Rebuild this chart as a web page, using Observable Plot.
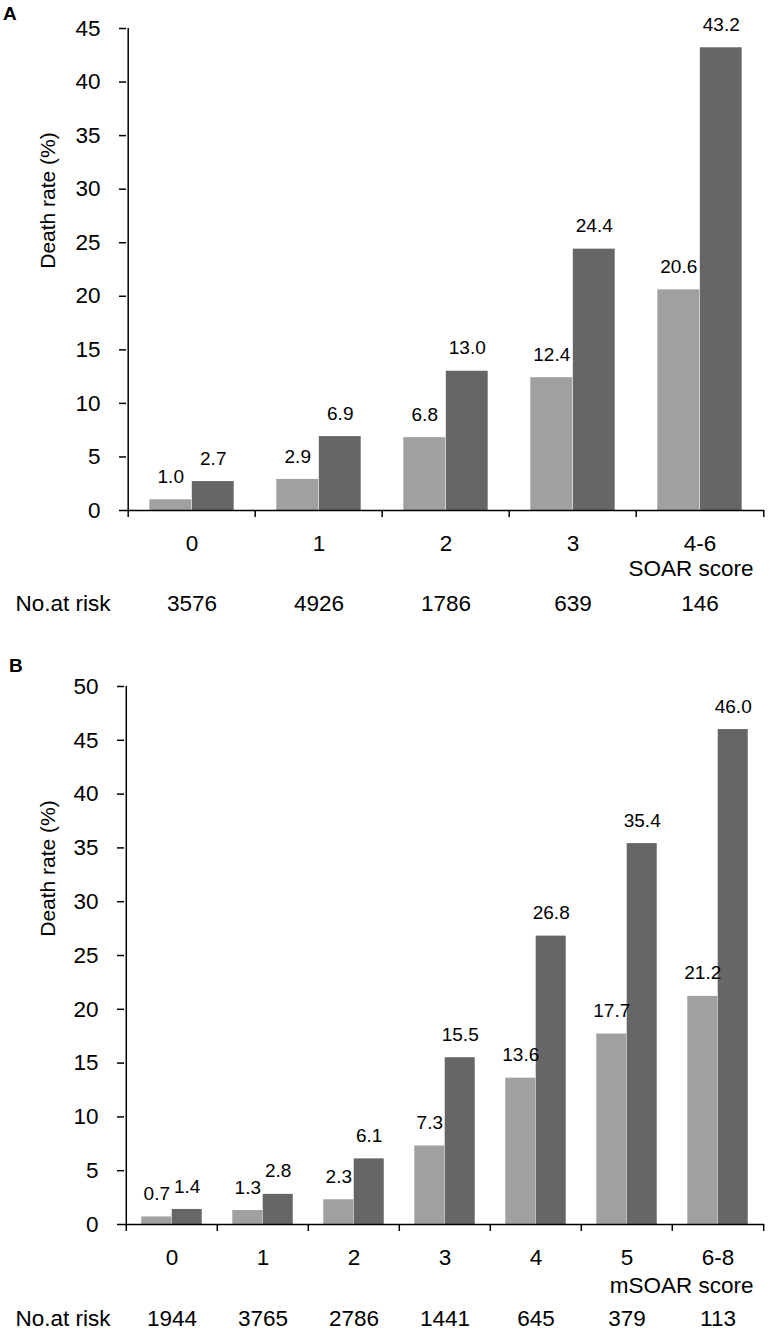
<!DOCTYPE html>
<html>
<head>
<meta charset="utf-8">
<script src="https://cdn.jsdelivr.net/npm/d3@7"></script>
<script src="https://cdn.jsdelivr.net/npm/@observablehq/plot@0.6"></script>
<style>
  html, body { margin: 0; padding: 0; background: #fff; }
  #wrap { position: relative; width: 771px; height: 1332px; font-family: "Liberation Sans", Arial, sans-serif; color: #000; }
  .panel { position: absolute; left: 0; }
  .tag { position: absolute; font-weight: bold; font-size: 19px; line-height: 1; z-index: 5; }
</style>
</head>
<body>
<div id="wrap">
  <div id="pa" class="panel" style="top:0px;"></div>
  <div id="pb" class="panel" style="top:640px;"></div>
  <div class="tag" style="left:3px; top:4px;">A</div>
  <div class="tag" style="left:9px; top:656px;">B</div>
</div>
<script>
// ---- Panel A data (SOAR score) ----
const scoresA = ["0", "1", "2", "3", "4-6"];
const lightA = [1.0, 2.9, 6.8, 12.4, 20.6];
const darkA = [2.7, 6.9, 13.0, 24.4, 43.2];
const riskA = [3576, 4926, 1786, 639, 146];
const yTicksA = [0, 5, 10, 15, 20, 25, 30, 35, 40, 45];

// ---- Panel B data (mSOAR score) ----
const scoresB = ["0", "1", "2", "3", "4", "5", "6-8"];
const lightB = [0.7, 1.3, 2.3, 7.3, 13.6, 17.7, 21.2];
const darkB = [1.4, 2.8, 6.1, 15.5, 26.8, 35.4, 46.0];
const riskB = [1944, 3765, 2786, 1441, 645, 379, 113];
const yTicksB = [0, 5, 10, 15, 20, 25, 30, 35, 40, 45, 50];

const yTitle = "Death rate (%)";
const riskTitle = "No.at risk";

const LIGHT = "#a0a0a0";
const DARK = "#666666";
const FONT = "'Liberation Sans', Arial, sans-serif";
const FS = 22.5;   // axis / label text
const VS = 19;     // value labels

function panel(cfg) {
  const W = 771;
  const {cats, light, dark, risk, yTicks, marginLeft, marginRight, marginTop, height, marginBottom,
         scoreLabel, titleDy, scoreDy, riskDy} = cfg;
  const rows = cats.map((c, i) => ({score: c, light: light[i], dark: dark[i], risk: risk[i]}));
  const step = (W - marginLeft - marginRight) / cats.length;
  const bw = step * 0.333;
  const frameH = height - marginTop - marginBottom;
  const last = cats[cats.length - 1];
  return Plot.plot({
    width: W,
    height,
    marginLeft, marginRight, marginTop, marginBottom,
    style: {fontFamily: FONT, fontSize: FS + "px", color: "#000", background: "#fff", overflow: "visible"},
    x: {type: "band", domain: cats, padding: 0, axis: null},
    y: {domain: [0, d3.max(yTicks)], axis: null},
    marks: [
      Plot.barY(rows, {x: "score", y: "light", fill: LIGHT, insetLeft: step / 2 - bw, insetRight: step / 2}),
      Plot.barY(rows, {x: "score", y: "dark", fill: DARK, insetLeft: step / 2, insetRight: step / 2 - bw}),
      Plot.text(rows, {x: "score", y: "light", text: d => d.light.toFixed(1), dx: -bw / 2, dy: -23, fontSize: VS, fill: "#000"}),
      Plot.text(rows, {x: "score", y: "dark", text: d => d.dark.toFixed(1), dx: bw / 2, dy: -23, fontSize: VS, fill: "#000"}),
      Plot.axisY(yTicks, {tickSize: 7, tickPadding: 19, label: null, strokeWidth: 1.5, fontSize: FS}),
      // y axis line (extends to the tick below the baseline)
      Plot.ruleX([cats[0]], {x: d => d, dx: -step / 2, insetBottom: -7, stroke: "#000", strokeWidth: 1.5}),
      // group boundary ticks
      Plot.ruleX(cats.slice(1), {x: d => d, dx: -step / 2, insetTop: frameH, insetBottom: -7, stroke: "#000", strokeWidth: 1.5}),
      Plot.ruleX([last], {x: d => d, dx: step / 2, insetTop: frameH, insetBottom: -7, stroke: "#000", strokeWidth: 1.5}),
      Plot.ruleY([0], {stroke: "#000", strokeWidth: 1.5}),
      // category labels
      Plot.text(cats, {x: d => d, text: d => d, frameAnchor: "bottom", lineAnchor: "middle", dy: 33, fontSize: FS, fill: "#000"}),
      // score label
      Plot.text([scoreLabel], {text: d => d, frameAnchor: "bottom-right", lineAnchor: "middle", dx: -11, dy: scoreDy, textAnchor: "end", fontSize: FS, fill: "#000"}),
      // number at risk row
      Plot.text(rows, {x: "score", text: d => String(d.risk), frameAnchor: "bottom", lineAnchor: "middle", dy: riskDy, fontSize: FS, fill: "#000"}),
      Plot.text([riskTitle], {text: d => d, frameAnchor: "bottom-left", lineAnchor: "middle", dx: 15 - marginLeft, dy: riskDy, textAnchor: "start", fontSize: FS, fill: "#000"}),
      // y title
      Plot.text([yTitle], {text: d => d, frameAnchor: "top-left", textAnchor: "middle", lineAnchor: "middle", dx: 48 - marginLeft, dy: titleDy, rotate: -90, fontSize: 21, fill: "#000"})
    ]
  });
}

document.getElementById("pa").appendChild(panel({
  cats: scoresA, light: lightA, dark: darkA, risk: riskA, yTicks: yTicksA,
  marginLeft: 126, marginRight: 7, marginTop: 28, height: 625, marginBottom: 115,
  scoreLabel: "SOAR score", titleDy: 172, scoreDy: 58, riskDy: 93
}));
document.getElementById("pb").appendChild(panel({
  cats: scoresB, light: lightB, dark: darkB, risk: riskB, yTicks: yTicksB,
  marginLeft: 124, marginRight: 7, marginTop: 46, height: 692, marginBottom: 108,
  scoreLabel: "mSOAR score", titleDy: 182, scoreDy: 61, riskDy: 94
}));
</script>
</body>
</html>
